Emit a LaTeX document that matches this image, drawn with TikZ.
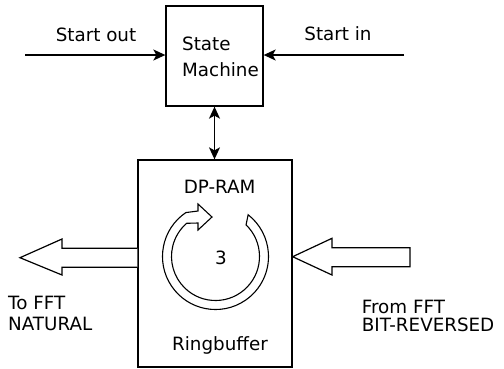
\documentclass[tikz,border=0pt]{standalone}
\usepackage{fontspec}
\setmainfont{DejaVu Sans}
\usetikzlibrary{calc,positioning,arrows.meta}
\tikzstyle{blk}=[
  draw,line width=1.3pt,inner sep=0pt
]
\tikzstyle{lbl}=[
  inner sep=0pt,font=\fontsize{18.3}{21}\selectfont
]
\tikzstyle{sig}=[
  ->,>={Stealth[length=12pt,width=11pt,inset=3pt]},line width=1.3pt
]
\tikzstyle{fat}=[
  draw,line width=1.2pt,fill=white,line join=miter
]
\tikzstyle{ring}=[
  draw,line width=1.1pt,fill=white,line join=miter
]
\begin{document}
\begin{tikzpicture}[x=1pt,y=-1pt]
    \useasboundingbox (0,0) rectangle (504,368);
    \node (sm) at (214.5,56) [blk,minimum width=97pt,minimum height=100pt] {};
    \node (rb) at (215,263.5) [blk,minimum width=154pt,minimum height=207pt] {};
    \node (smtxt) at (182,76) [lbl,anchor=base west,align=left,
      font=\fontsize{18.3}{25.5}\selectfont] {State\\Machine};
    \node (dpram) at (219.7,193) [lbl,anchor=base] {DP-RAM};
    \node (rbtxt) at (220,350) [lbl,anchor=base] {Ringbuffer};
    \node (cnt) at (221,264) [lbl,anchor=base] {3};
    \node (soTxt) at (96,41.5) [lbl,anchor=base] {Start out};
    \node (siTxt) at (338,40) [lbl,anchor=base] {Start in};
    \node (toTxt) at (8,330) [lbl,anchor=base west,align=left,
      font=\fontsize{18.3}{20.8}\selectfont] {To FFT\\NATURAL};
    \node (fromTxt) at (361.7,331.7) [lbl,anchor=base west,align=left,
      font=\fontsize{18.3}{18.7}\selectfont] {From FFT\\BIT-REVERSED};
    % control lines
    \coordinate (so) at (25,55);
    \coordinate (si) at (404,55);
    \draw [sig] (so) -- (sm.west |- so);
    \draw [sig] (si) -- (sm.east |- si);
    \draw [sig,<->] (sm.south) -- (sm.south |- rb.north);
    % data arrows
    \draw [fat] (rb.west |- 0,248.3) -- (62,248.3) -- (62,239) -- (20,257.7)
      -- (62,275) -- (62,267.3) -- (rb.west |- 0,267.3);
    \draw [fat] (410,247.7) -- (332,247.7) -- (332,238.3) -- (rb.east |- 0,256.7)
      -- (332,275) -- (332,266.7) -- (410,266.7) -- cycle;
    % ring
    \coordinate (ctr) at (215.5,256.5);
    \draw [ring] (ctr) ++(-124:53) arc (-124:-412:53)
      -- ($(ctr)+(-406:44)$) arc (-406:-131:44)
      -- (198,223) -- (198,230) -- (212,217) -- (198,204) -- (198,211) -- cycle;
\end{tikzpicture}
\end{document}
